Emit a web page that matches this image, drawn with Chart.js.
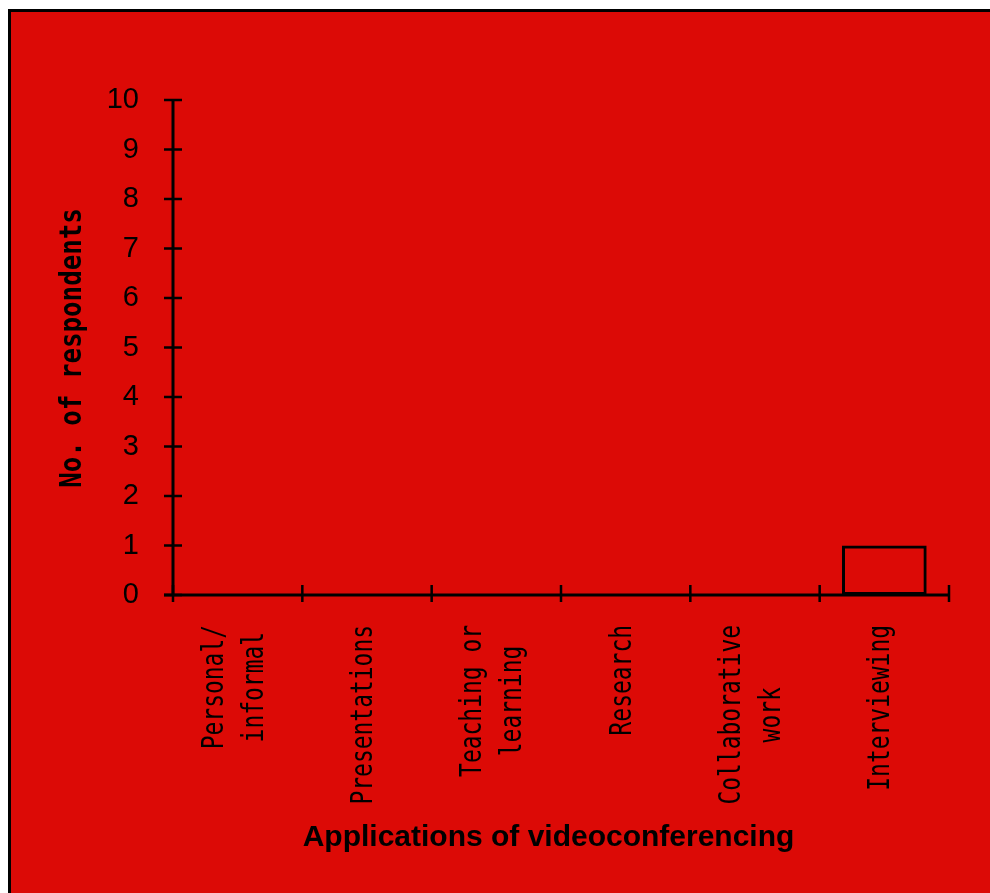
<!DOCTYPE html>
<html>
<head>
<meta charset="utf-8">
<script src="https://cdn.jsdelivr.net/npm/chart.js@4/dist/chart.umd.min.js"></script>
<style>
  html, body { margin: 0; padding: 0; background: #ffffff; }
  #wrap { position: relative; width: 990px; height: 893px; }
</style>
</head>
<body>
<div id="wrap"><canvas id="chart" width="990" height="893"></canvas></div>
<script>
// Survey: what respondents use videoconferencing for
const categories = [
  ["Personal/", "informal"],
  ["Presentations"],
  ["Teaching or", "learning"],
  ["Research"],
  ["Collaborative", "work"],
  ["Interviewing"]
];
const respondents = [0, 0, 0, 0, 0, 1];
const yMin = 0;
const yMax = 10;
const yStep = 1;
const xTitle = "Applications of videoconferencing";
const yTitle = "No. of respondents";

const RED = '#dc0a06';
const INK = '#000000';

// Red panel with a black rule along its top and left edges,
// plus axes with ticks that cross the axis lines and rotated category text.
const panelPlugin = {
  id: 'panel',
  beforeDraw(chart) {
    const ctx = chart.ctx;
    ctx.save();
    ctx.fillStyle = RED;
    ctx.fillRect(11, 12, chart.width - 11, chart.height - 12);
    ctx.fillStyle = INK;
    ctx.fillRect(8, 9, chart.width - 8, 3);
    ctx.fillRect(8, 9, 3, chart.height - 9);
    ctx.restore();
  },
  afterDatasetsDraw(chart) {
    const ctx = chart.ctx;
    const xs = chart.scales.x;
    const ys = chart.scales.y;
    const y0 = ys.getPixelForValue(yMin);
    const yTop = ys.getPixelForValue(yMax);
    const left = xs.left;
    ctx.save();
    ctx.strokeStyle = INK;
    ctx.lineCap = 'butt';

    // axis lines
    ctx.lineWidth = 3;
    ctx.beginPath();
    ctx.moveTo(left, yTop - 1);
    ctx.lineTo(left, y0);
    ctx.moveTo(left - 9, y0);
    ctx.lineTo(xs.right, y0);
    ctx.stroke();

    // value ticks crossing the y axis
    ctx.lineWidth = 2.5;
    ctx.beginPath();
    ys.ticks.forEach(t => {
      const p = ys.getPixelForValue(t.value);
      ctx.moveTo(left - 9, p);
      ctx.lineTo(left + 9, p);
    });
    // category boundary ticks crossing the x axis
    const n = xs.ticks.length;
    const w = (xs.right - xs.left) / n;
    for (let i = 0; i <= n; i++) {
      const px = xs.left + i * w;
      ctx.moveTo(px, y0 - 10);
      ctx.lineTo(px, y0 + 7);
    }
    ctx.stroke();

    // rotated category labels, lines centred on one another
    ctx.fillStyle = INK;
    ctx.font = '31px "DejaVu Sans Mono", monospace';
    ctx.textAlign = 'center';
    ctx.textBaseline = 'middle';
    const sc = 0.74;
    categories.forEach((lines, i) => {
      const cx = xs.getPixelForTick(i);
      const widths = lines.map(l => ctx.measureText(l).width * sc);
      const maxW = Math.max(...widths);
      const cy = y0 + 30 + maxW / 2;
      const offs = lines.length === 1 ? [-3] : [-23, 17];
      lines.forEach((line, j) => {
        ctx.save();
        ctx.translate(cx + offs[j], cy);
        ctx.rotate(-Math.PI / 2);
        ctx.scale(sc, 1);
        ctx.fillText(line, 0, 0);
        ctx.restore();
      });
    });

    // y axis title
    ctx.font = 'bold 30px "DejaVu Sans Mono", monospace';
    ctx.save();
    ctx.translate(73, 348);
    ctx.rotate(-Math.PI / 2);
    ctx.scale(0.86, 1);
    ctx.fillText(yTitle, 0, 0);
    ctx.restore();

    // x axis title
    ctx.font = 'bold 30px "Liberation Sans", Arial, sans-serif';
    ctx.textBaseline = 'alphabetic';
    ctx.fillText(xTitle, 548.5, 846);
    ctx.restore();
  }
};

new Chart(document.getElementById('chart'), {
  type: 'bar',
  data: {
    labels: categories.map(l => l.join(' ')),
    datasets: [{
      data: respondents,
      backgroundColor: 'rgba(0,0,0,0)',
      borderColor: INK,
      borderWidth: c => (c.raw ? 3 : 0),
      borderSkipped: false,
      barPercentage: 0.655,
      categoryPercentage: 1
    }]
  },
  options: {
    responsive: false,
    animation: false,
    devicePixelRatio: 1,
    layout: { padding: { left: 0, top: 100, right: 41, bottom: 0 } },
    plugins: { legend: { display: false }, tooltip: { enabled: false } },
    scales: {
      x: {
        ticks: { display: false },
        grid: { display: false, drawTicks: false },
        border: { display: false },
        afterFit(s) { s.height = 298; }
      },
      y: {
        min: yMin,
        max: yMax,
        ticks: {
          stepSize: yStep,
          color: INK,
          padding: 34,
          font: { family: '"Liberation Sans", Arial, sans-serif', size: 29 }
        },
        grid: { display: false, drawTicks: false },
        border: { display: false },
        afterFit(s) { s.width = 173; }
      }
    }
  },
  plugins: [panelPlugin]
});
</script>
</body>
</html>
